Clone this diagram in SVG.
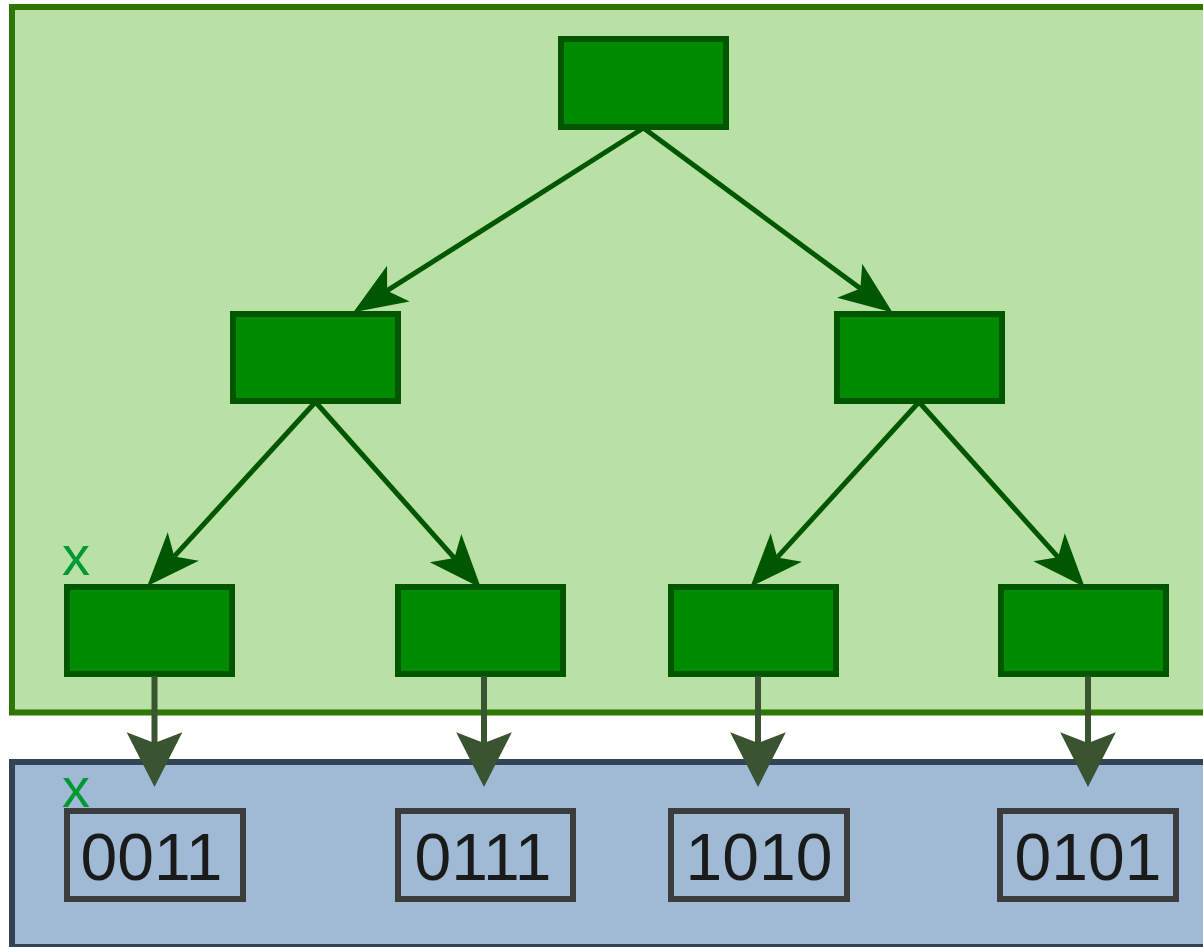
<svg xmlns="http://www.w3.org/2000/svg" width="1203" height="947" viewBox="0 0 1203 947">
  <style>
    .tree-box { fill: #b9e0a5; stroke: #2d7600; stroke-width: 6; }
    .leaf-box { fill: #a0bad6; stroke: #314354; stroke-width: 6; }
    .node { fill: #008a00; stroke: #005700; stroke-width: 6; }
    .value { fill: none; stroke: #3c3c3c; stroke-width: 6; }
    .value-text { font-family: "Liberation Sans", Arial, sans-serif; font-size: 66px; fill: #1a1a1a; text-anchor: middle; }
    .mark { font-family: "Liberation Sans", Arial, sans-serif; font-size: 56px; fill: #009933; }
    .edge { fill: none; stroke: #005700; stroke-width: 5; marker-end: url(#arrow-tree); }
    .link { fill: none; stroke: #3a5431; stroke-width: 6; marker-end: url(#arrow-link); }
  </style>
  <defs>
    <!-- origin sits at the notch of the arrowhead; the tip lies ahead of the path end -->
    <marker id="arrow-tree" markerUnits="userSpaceOnUse" orient="auto" refX="0" refY="0"
            markerWidth="60" markerHeight="50" viewBox="-14 -22 54 44" overflow="visible">
      <path d="M36,0 L-12,-19 L0,0 L-12,19 Z" fill="#005700"/>
    </marker>
    <marker id="arrow-link" markerUnits="userSpaceOnUse" orient="auto" refX="0" refY="0"
            markerWidth="60" markerHeight="60" viewBox="-12 -28 56 56" overflow="visible">
      <path d="M41,0 L-10,-26 L0,0 L-10,26 Z" fill="#3a5431"/>
    </marker>
  </defs>

  <rect width="1203" height="947" fill="#ffffff"/>

  <!-- containers -->
  <g id="tree-area">
    <rect class="tree-box" x="12" y="7" width="1200" height="705.5"/>
    <text class="mark" x="62" y="575">x</text>
  </g>
  <g id="leaf-area">
    <rect class="leaf-box" x="12" y="762" width="1200" height="185"/>
    <text class="mark" x="62" y="807">x</text>
  </g>

  <!-- tree nodes -->
  <g id="root"><rect class="node" x="561" y="39" width="165" height="88"/></g>
  <g id="inner-left"><rect class="node" x="233" y="314" width="165" height="87"/></g>
  <g id="inner-right"><rect class="node" x="837" y="314" width="165" height="87"/></g>
  <g id="leaf-1"><rect class="node" x="67" y="587" width="165" height="87"/></g>
  <g id="leaf-2"><rect class="node" x="398" y="587" width="165" height="87"/></g>
  <g id="leaf-3"><rect class="node" x="671" y="587" width="165" height="87"/></g>
  <g id="leaf-4"><rect class="node" x="1001" y="587" width="165" height="87"/></g>

  <!-- stored values -->
  <g id="value-1">
    <rect class="value" x="67" y="811" width="176" height="88"/>
    <text class="value-text" x="151.5" y="879.5">0011</text>
  </g>
  <g id="value-2">
    <rect class="value" x="398" y="811" width="175" height="88"/>
    <text class="value-text" x="483" y="879.5">0111</text>
  </g>
  <g id="value-3">
    <rect class="value" x="671" y="811" width="176" height="88"/>
    <text class="value-text" x="759" y="879.5">1010</text>
  </g>
  <g id="value-4">
    <rect class="value" x="1000" y="811" width="176" height="88"/>
    <text class="value-text" x="1088" y="879.5">0101</text>
  </g>

  <!-- connectors -->
  <g id="connectors">
    <path class="edge" d="M643.5,128 L387.1,290.7"/>
    <path class="edge" d="M643.5,128 L860.4,288.6"/>
    <path class="edge" d="M315.5,402 L174.3,556.4"/>
    <path class="edge" d="M315.5,402 L454.4,558.1"/>
    <path class="edge" d="M919,402 L777.3,557.4"/>
    <path class="edge" d="M919,402 L1058,557.2"/>
    <path class="link" d="M154.5,676 L154.5,743"/>
    <path class="link" d="M484,676 L484,743"/>
    <path class="link" d="M758,676 L758,743"/>
    <path class="link" d="M1088,676 L1088,743"/>
  </g>
</svg>
